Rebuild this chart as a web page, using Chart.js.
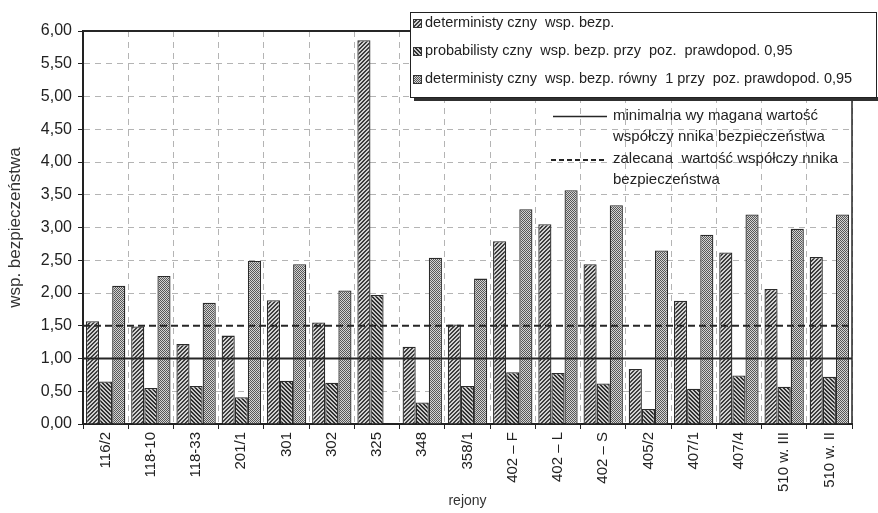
<!DOCTYPE html>
<html>
<head>
<meta charset="utf-8">
<script src="https://cdn.jsdelivr.net/npm/chart.js@4.4.1/dist/chart.umd.min.js"></script>
<style>
  html, body { margin: 0; padding: 0; background: #fff; }
  #wrap { width: 878px; height: 513px; }
</style>
</head>
<body>
<div id="wrap"><canvas id="c" width="878" height="513"></canvas></div>
<script>
// Mining regions (rejony)
const regions = ['116/2', '118-10', '118-33', '201/1', '301', '302', '325', '348', '358/1',
  '402 – F', '402 – L', '402 – S', '405/2', '407/1', '407/4', '510 w. III', '510 w. II'];

// Deterministic safety factor
const detFactor = [1.57, 1.49, 1.22, 1.35, 1.89, 1.55, 5.86, 1.18, 1.52,
  2.79, 3.05, 2.44, 0.84, 1.88, 2.62, 2.06, 2.55];

// Probabilistic safety factor at probability level 0.95
const probFactor = [0.65, 0.55, 0.58, 0.41, 0.66, 0.63, 1.97, 0.33, 0.58,
  0.79, 0.78, 0.62, 0.23, 0.54, 0.74, 0.57, 0.72];

// Deterministic factor equivalent to 1 at probability level 0.95
const detAtProb = [2.11, 2.26, 1.85, 2.49, 2.44, 2.04, null, 2.54, 2.22,
  3.28, 3.57, 3.34, 2.65, 2.89, 3.20, 2.98, 3.20];

const seriesNames = [
  'deterministy czny  wsp. bezp.',
  'probabilisty czny  wsp. bezp. przy  poz.  prawdopod. 0,95',
  'deterministy czny  wsp. bezp. równy  1 przy  poz. prawdopod. 0,95'
];

// Reference levels of the safety factor
const minRequired = 1.0;
const recommended = 1.5;
const minRequiredText = ['minimalna wy magana wartość', 'współczy nnika bezpieczeństwa'];
const recommendedText = ['zalecana  wartość współczy nnika', 'bezpieczeństwa'];

const yMin = 0, yMax = 6, yStep = 0.5;

const FONT = '"Liberation Sans", Arial, Helvetica, sans-serif';
Chart.defaults.font.family = FONT;
Chart.defaults.color = '#222';

const canvas = document.getElementById('c');
const ctx = canvas.getContext('2d');

// Fill patterns for the three series
function hatch(bg, fg, forward) {
  const t = document.createElement('canvas');
  t.width = 4; t.height = 4;
  const g = t.getContext('2d');
  g.fillStyle = bg; g.fillRect(0, 0, 4, 4);
  g.fillStyle = fg;
  for (let i = 0; i < 4; i++) {
    const y = forward ? 3 - i : i;
    g.fillRect(i, y, 1, 1);
    g.fillRect(i, (y + 1) % 4, 1, 1);
  }
  return ctx.createPattern(t, 'repeat');
}
function checker(a, b) {
  const t = document.createElement('canvas');
  t.width = 2; t.height = 2;
  const g = t.getContext('2d');
  g.fillStyle = b; g.fillRect(0, 0, 2, 2);
  g.fillStyle = a; g.fillRect(0, 0, 1, 1); g.fillRect(1, 1, 1, 1);
  return ctx.createPattern(t, 'repeat');
}
const fills = [
  hatch('#d2d2d2', '#3e3e3e', true),
  hatch('#c8c8c8', '#303030', false),
  checker('#575757', '#d4d4d4')
];

const overlayPlugin = {
  id: 'overlay',
  afterDatasetsDraw(chart) {
    const { ctx: c, chartArea: a, scales: { y } } = chart;
    c.save();
    c.strokeStyle = '#262626';
    // minimum required value
    c.lineWidth = 2;
    let py = y.getPixelForValue(minRequired);
    c.beginPath(); c.moveTo(a.left, py); c.lineTo(a.right, py); c.stroke();
    // recommended value
    c.setLineDash([7, 4]);
    py = y.getPixelForValue(recommended);
    c.beginPath(); c.moveTo(a.left, py); c.lineTo(a.right, py); c.stroke();
    c.setLineDash([]);
    // plot frame: top and right edges
    c.lineWidth = 2;
    c.beginPath(); c.moveTo(a.left, a.top); c.lineTo(a.right, a.top); c.stroke();
    c.lineWidth = 1.5;
    c.beginPath(); c.moveTo(a.right, a.top); c.lineTo(a.right, a.bottom); c.stroke();
    c.restore();
  },
  afterDraw(chart) {
    const c = chart.ctx;
    c.save();
    // series legend box with shadow
    c.fillStyle = '#303030';
    c.fillRect(414, 97, 464, 4);
    c.fillStyle = '#fff';
    c.fillRect(410, 12, 467, 85);
    c.strokeStyle = '#222';
    c.lineWidth = 1;
    c.strokeRect(410.5, 12.5, 466, 85);
    c.font = '14.5px ' + FONT;
    c.textBaseline = 'middle';
    c.textAlign = 'left';
    const rows = [23, 51, 79];
    seriesNames.forEach((name, i) => {
      c.fillStyle = fills[i];
      c.fillRect(413, rows[i] - 4, 9, 9);
      c.strokeStyle = '#333';
      c.strokeRect(413.5, rows[i] - 3.5, 8, 8);
      c.fillStyle = '#222';
      c.fillText(name, 425, rows[i]);
    });
    // reference line legend
    c.strokeStyle = '#262626';
    c.lineWidth = 1.5;
    c.beginPath(); c.moveTo(553, 116.5); c.lineTo(607, 116.5); c.stroke();
    c.lineWidth = 2;
    c.setLineDash([5, 3]);
    c.beginPath(); c.moveTo(551, 160); c.lineTo(607, 160); c.stroke();
    c.setLineDash([]);
    c.fillStyle = '#222';
    c.font = '15px ' + FONT;
    c.fillText(minRequiredText[0], 613, 116);
    c.fillText(minRequiredText[1], 613, 137);
    c.fillText(recommendedText[0], 613, 159);
    c.fillText(recommendedText[1], 613, 180);
    c.restore();
  }
};

const barStyle = { borderColor: '#2b2b2b', borderWidth: 1.3, categoryPercentage: 0.87, barPercentage: 1.0 };

new Chart(canvas, {
  type: 'bar',
  data: {
    labels: regions,
    datasets: [
      Object.assign({ label: seriesNames[0], data: detFactor, backgroundColor: fills[0] }, barStyle),
      Object.assign({ label: seriesNames[1], data: probFactor, backgroundColor: fills[1] }, barStyle),
      Object.assign({ label: seriesNames[2], data: detAtProb, backgroundColor: fills[2] }, barStyle)
    ]
  },
  options: {
    responsive: false,
    animation: false,
    layout: { padding: { top: 31, right: 26, left: 0, bottom: 0 } },
    plugins: { legend: { display: false }, tooltip: { enabled: false } },
    scales: {
      x: {
        ticks: { autoSkip: false, minRotation: 90, maxRotation: 90, font: { size: 15 }, color: '#222', padding: 3 },
        grid: { offset: true, color: '#b4b4b4', lineWidth: 1, tickLength: 5, tickColor: '#222', tickBorderDash: [] },
        border: { display: true, color: '#222', width: 2, dash: [6, 5] },
        title: { display: true, text: 'rejony', font: { size: 14 }, color: '#333', padding: { top: 0, bottom: 3 } },
        afterFit(s) { s.height = 89; }
      },
      y: {
        min: yMin, max: yMax,
        ticks: { stepSize: yStep, font: { size: 16 }, color: '#222', padding: 6,
          callback: v => Number(v).toFixed(2).replace('.', ',') },
        grid: { color: '#b4b4b4', lineWidth: 1, tickLength: 5, tickColor: '#222', tickBorderDash: [] },
        border: { display: true, color: '#222', width: 2, dash: [6, 5] },
        title: { display: true, text: 'wsp. bezpieczeństwa', font: { size: 17 }, color: '#333', padding: { top: 5, bottom: 0 } },
        afterFit(s) { s.width = 83; }
      }
    }
  },
  plugins: [overlayPlugin]
});
</script>
</body>
</html>
